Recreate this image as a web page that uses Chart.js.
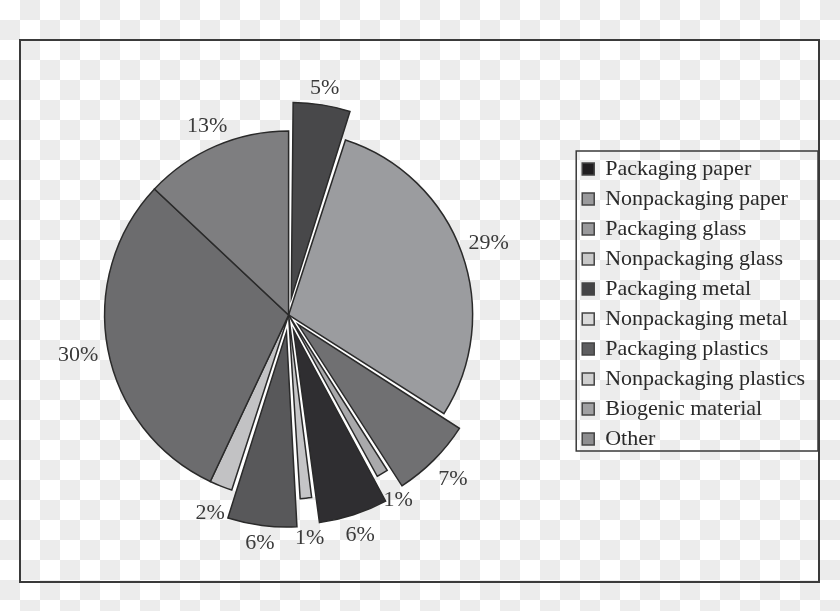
<!DOCTYPE html>
<html lang="en">
  <head>
    <meta charset="UTF-8" />
    <meta name="viewport" content="width=device-width, initial-scale=1.0" />
    <title>Waste composition</title>
    <script src="https://cdn.jsdelivr.net/npm/chart.js"></script>
    <style>
      html,
      body {
        margin: 0;
        padding: 0;
      }
      body {
        width: 840px;
        height: 611px;
        overflow: hidden;
        position: relative;
        background-color: #fff;
        background-image: conic-gradient(#ececec 25%, #fff 0 50%, #ececec 0 75%, #fff 0);
        background-size: 40px 40px;
      }
      #frame {
        position: absolute;
        left: 19px;
        top: 39px;
        width: 797px;
        height: 540px;
        border: 2px solid #3a3a3a;
      }
      #pieChart {
        position: absolute;
        left: 0;
        top: 0;
      }
    </style>
  </head>
  <body>
    <div id="frame"></div>
    <canvas id="pieChart" width="840" height="611"></canvas>

    <script>
      // categories in legend order, slices run clockwise from 12 o'clock
      const categories = [
        "Packaging paper",
        "Nonpackaging paper",
        "Packaging glass",
        "Nonpackaging glass",
        "Packaging metal",
        "Nonpackaging metal",
        "Packaging plastics",
        "Nonpackaging plastics",
        "Biogenic material",
        "Other",
      ];
      const shares = [5, 29, 7, 1, 6, 1, 6, 2, 30, 13];

      // styling
      const sliceColors = [
        "#48484a", "#9b9c9f", "#707072", "#a9a9ab", "#2f2e31",
        "#c5c5c7", "#58585a", "#c2c2c4", "#6c6c6e", "#7e7e80",
      ];
      const legendColors = [
        "#1e1c1e", "#9a9a9c", "#9a9a9c", "#c8c8c8", "#444446",
        "#dadada", "#5e5e60", "#d0d0d0", "#a0a0a2", "#8e8e90",
      ];
      const explode = [68, 0, 54, 0, 64, 0, 69, 0, 0, 0];
      const labelGap = [7, 7, 11, 17, 9, 31, 8, 16, 9, 6];
      const serif = '"Liberation Serif", "DejaVu Serif", serif';

      // white behind the pie so gaps between pulled-out slices look white
      const pieBack = {
        id: "pieBack",
        beforeDatasetsDraw(chart) {
          const arc = chart.getDatasetMeta(0).data[0];
          if (!arc) return;
          const ctx = chart.ctx;
          ctx.save();
          ctx.fillStyle = "#fff";
          ctx.beginPath();
          ctx.arc(arc.x, arc.y, arc.outerRadius, 0, Math.PI * 2);
          ctx.fill();
          ctx.restore();
        },
      };

      // percentage labels outside each slice
      const pctLabels = {
        id: "pctLabels",
        afterDatasetsDraw(chart) {
          const ctx = chart.ctx;
          const meta = chart.getDatasetMeta(0);
          ctx.save();
          ctx.font = "22px " + serif;
          ctx.fillStyle = "#3a3a3a";
          ctx.textAlign = "center";
          ctx.textBaseline = "middle";
          meta.data.forEach((arc, i) => {
            const p = arc.getProps(["x", "y", "startAngle", "endAngle", "outerRadius", "circumference"], true);
            const mid = (p.startAngle + p.endAngle) / 2;
            const t = (arc.options.offset || 0) / 4;
            const fix = 1 - Math.sin(Math.min(Math.PI, p.circumference));
            const text = shares[i] + "%";
            const w = ctx.measureText(text).width;
            const c = Math.cos(mid);
            const s = Math.sin(mid);
            const d = p.outerRadius + t + t * fix + labelGap[i] + Math.abs(c) * w / 2 + Math.abs(s) * 8;
            ctx.fillText(text, p.x + c * d, p.y + s * d);
          });
          ctx.restore();
        },
      };

      // frame round the legend
      const legendBox = {
        id: "legendBox",
        afterDraw(chart) {
          const boxes = chart.legend && chart.legend.legendHitBoxes;
          if (!boxes || !boxes.length) return;
          const l = Math.min(...boxes.map((b) => b.left)) - 6;
          const t = Math.min(...boxes.map((b) => b.top)) - 7;
          const r = Math.max(...boxes.map((b) => b.left + b.width)) + 13;
          const btm = Math.max(...boxes.map((b) => b.top + b.height)) + 1;
          const ctx = chart.ctx;
          ctx.save();
          ctx.strokeStyle = "#3a3a3a";
          ctx.lineWidth = 1.5;
          ctx.strokeRect(l, t, r - l, btm - t);
          ctx.restore();
        },
      };

      new Chart(document.getElementById("pieChart"), {
        type: "pie",
        data: {
          labels: categories,
          datasets: [
            {
              data: shares,
              backgroundColor: sliceColors,
              borderColor: "#2a2a2a",
              borderWidth: 1.5,
              borderJoinStyle: "miter",
              offset: explode,
              hoverOffset: 0,
              clip: false,
            },
          ],
        },
        options: {
          responsive: false,
          animation: false,
          radius: 184,
          layout: {
            padding: { left: 3, right: 25, top: 150, bottom: 131 },
          },
          plugins: {
            tooltip: { enabled: false },
            legend: {
              position: "right",
              align: "start",
              labels: {
                boxWidth: 12,
                boxHeight: 12,
                padding: 8,
                color: "#2a2a2a",
                font: { family: serif, size: 22 },
                generateLabels(chart) {
                  return chart.data.labels.map((text, i) => ({
                    text: text,
                    fillStyle: legendColors[i],
                    strokeStyle: "#444",
                    lineWidth: 1.5,
                    fontColor: "#2a2a2a",
                    hidden: false,
                    index: i,
                  }));
                },
              },
            },
          },
        },
        plugins: [pieBack, pctLabels, legendBox],
      });
    </script>
  </body>
</html>
